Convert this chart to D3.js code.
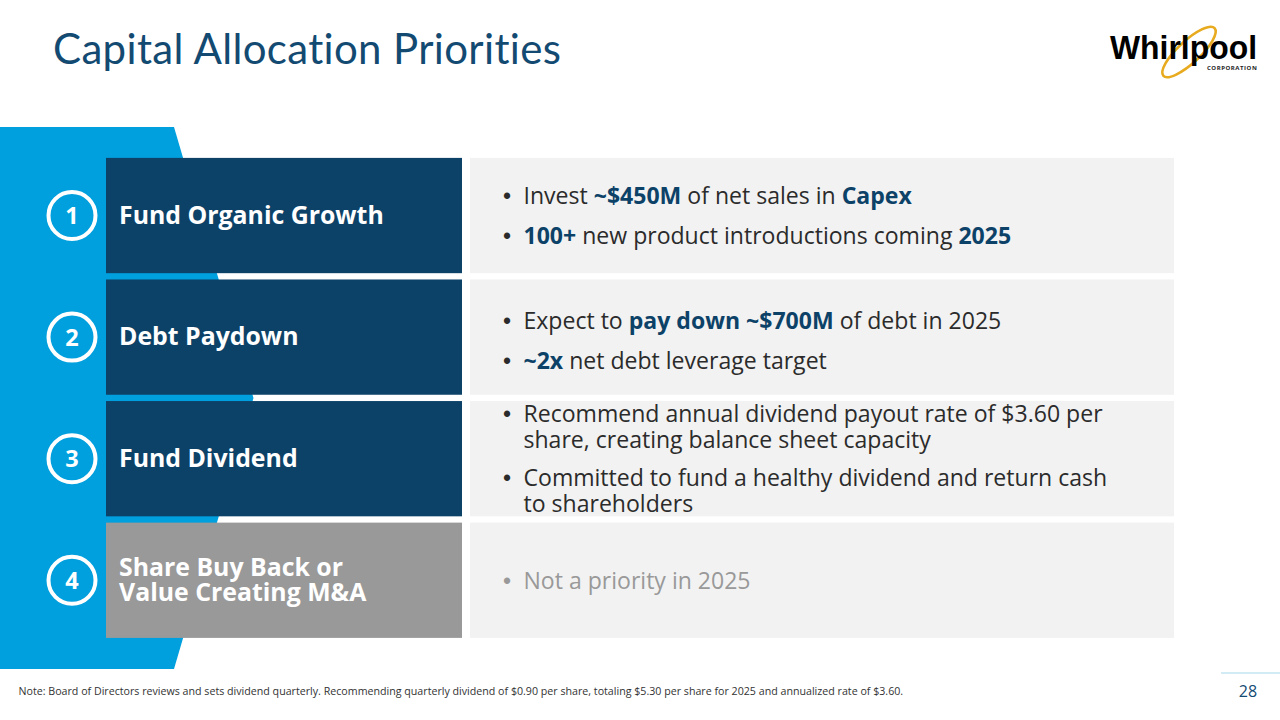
<!DOCTYPE html>
<html><head><meta charset="utf-8">
<script src="https://cdn.jsdelivr.net/npm/d3@7"></script>
<style>html,body{margin:0;padding:0;background:#fff;overflow:hidden}svg{display:block}text{font-family:"Open Sans",sans-serif}</style>
</head><body><svg id="c" width="1280" height="720"></svg>
<script>
const titleText = "Capital Allocation Priorities";
const rowNumbers = [1, 2, 3, 4];
const rowLabels = [["Fund Organic Growth"], ["Debt Paydown"], ["Fund Dividend"], ["Share Buy Back or", "Value Creating M&A"]];
const rowActive = [true, true, true, false];
const bullets1 = [[["Invest ", 0], ["~$450M", 1], [" of net sales in ", 0], ["Capex", 1]], [["100+", 1], [" new product introductions coming ", 0], ["2025", 1]]];
const bullets2 = [[["Expect to ", 0], ["pay down ~$700M", 1], [" of debt in 2025", 0]], [["~2x", 1], [" net debt leverage target", 0]]];
const bullets3 = [[["Recommend annual dividend payout rate of $3.60 per", 0]], [["share, creating balance sheet capacity", 0]], [["Committed to fund a healthy dividend and return cash", 0]], [["to shareholders", 0]]];
const bullets4 = [[["Not a priority in 2025", 0]]];
const footnote = "Note: Board of Directors reviews and sets dividend quarterly. Recommending quarterly dividend of $0.90 per share, totaling $5.30 per share for 2025 and annualized rate of $3.60.";
const pageNumber = "28";

const NAVY = "#0d4268", BLUE = "#009fde", GREY = "#999999", PANEL = "#f2f2f2";
const svg = d3.select("#c");
const y = d3.scaleBand().domain(rowNumbers).range([157.9, 637.9]).paddingInner(6.3 / 121.6);

svg.append("path").attr("fill", BLUE).attr("d", d3.line()([[0,127],[174,127],[253.5,398],[174,669],[0,669]]));
svg.append("text").attr("x", 53).attr("y", 64).attr("fill", "#134a72").attr("font-size", 42).style("font-family", "Lato").attr("letter-spacing", 0.34).text(titleText);

const rows = svg.selectAll("g.row").data(rowNumbers).join("g").attr("class", "row");
rows.append("rect").attr("x", 106).attr("width", 356).attr("y", d => y(d)).attr("height", y.bandwidth()).attr("fill", (d, i) => rowActive[i] ? NAVY : GREY);
rows.append("rect").attr("x", 470).attr("width", 704).attr("y", d => y(d)).attr("height", y.bandwidth()).attr("fill", PANEL);
rows.append("circle").attr("cx", 72).attr("cy", d => y(d) + y.bandwidth() / 2).attr("r", 23.5).attr("fill", "none").attr("stroke", "#fff").attr("stroke-width", 4);
rows.append("text").attr("x", 72).attr("y", d => y(d) + y.bandwidth() / 2 + 8.5).attr("text-anchor", "middle").attr("fill", "#fff").attr("font-size", 23.5).attr("font-weight", 700).text(d => d);
rows.each(function (d, i) {
  const lines = rowLabels[i], g = d3.select(this), cy = y(d) + y.bandwidth() / 2, lh = 25;
  lines.forEach((t, k) => g.append("text").attr("x", 119).attr("y", cy + 8 + (k - (lines.length - 1) / 2) * lh).attr("fill", "#fff").attr("font-size", 24.85).attr("font-weight", 700).text(t));
});

function bulletBlock(row, lines, baselines, bulletFlags, colour, boldColour) {
  const top = y(row);
  lines.forEach((segs, k) => {
    const by = top + baselines[k];
    if (bulletFlags[k]) svg.append("text").attr("x", 503).attr("y", by).attr("fill", colour).attr("font-size", 23).style("font-family", "Liberation Sans").text("•");
    const t = svg.append("text").attr("x", 523.5).attr("y", by).attr("fill", colour).attr("font-size", 23.06);
    segs.forEach(s => t.append("tspan").attr("font-weight", s[1] ? 700 : 400).attr("fill", s[1] ? boldColour : colour).text(s[0]));
  });
}
bulletBlock(1, bullets1, [46.3, 86.3], [1, 1], "#2b2b2b", NAVY);
bulletBlock(2, bullets2, [49.8, 89.8], [1, 1], "#2b2b2b", NAVY);
bulletBlock(3, bullets3, [21.3, 47.3, 85.3, 111.3], [1, 0, 1, 0], "#2b2b2b", NAVY);
bulletBlock(4, bullets4, [66.5], [1], "#999999", "#999999");

svg.append("text").attr("x", 18.5).attr("y", 695).attr("fill", "#333").attr("font-size", 10.66).text(footnote);
svg.append("line").attr("x1", 1221).attr("x2", 1280).attr("y1", 673).attr("y2", 673).attr("stroke", "#a5d8ea").attr("stroke-width", 1);
svg.append("text").attr("x", 1248).attr("y", 697).attr("text-anchor", "middle").attr("fill", "#134a72").attr("font-size", 16).text(pageNumber);

const logo = svg.append("g");
logo.append("ellipse").attr("cx", 1189).attr("cy", 52).attr("rx", 35).attr("ry", 11).attr("transform", "rotate(-43 1189 52)").attr("fill", "none").attr("stroke", "#e8ab1f").attr("stroke-width", 2.6);
logo.append("text").attr("x", 1110).attr("y", 58.5).attr("fill", "#000").attr("font-size", 34).attr("font-weight", 700).style("font-family", "Liberation Sans").attr("textLength", 147).attr("lengthAdjust", "spacingAndGlyphs").text("Whirlpool");
logo.append("text").attr("x", 1207).attr("y", 69.5).attr("fill", "#222").attr("font-size", 6).attr("font-weight", 700).attr("letter-spacing", 0.55).text("CORPORATION");
</script></body></html>
